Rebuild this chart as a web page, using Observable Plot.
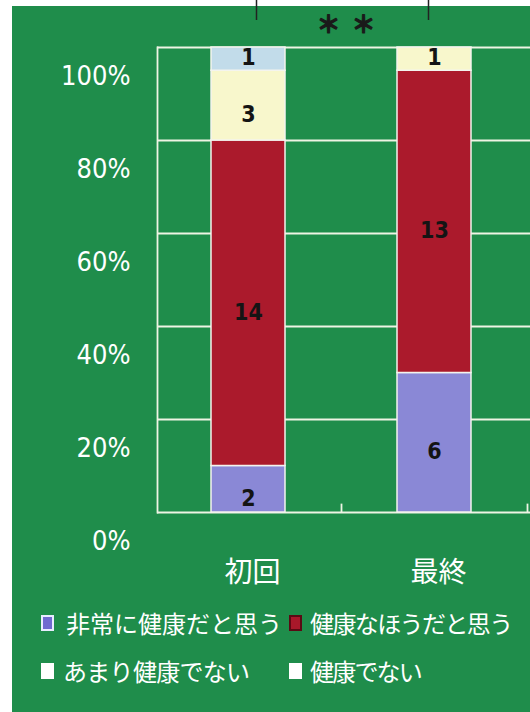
<!DOCTYPE html>
<html>
<head>
<meta charset="utf-8">
<script src="https://cdn.jsdelivr.net/npm/d3@7"></script>
<script src="https://cdn.jsdelivr.net/npm/@observablehq/plot@0.6"></script>
<style>
  html, body { margin: 0; padding: 0; background: #ffffff; }
  #wrap { position: relative; width: 530px; height: 712px; background: #ffffff; overflow: hidden; }
  #bg { position: absolute; left: 12px; top: 6px; right: 0; bottom: 0; background: #1f8d4b; }
  #chart { position: absolute; left: 0; top: 0; }
  #chart svg { background: transparent; overflow: visible; }
  #legend { position: absolute; left: 0; top: 605px; width: 530px; height: 107px;
    font-family: "Noto Sans CJK JP", sans-serif; font-size: 24px; color: #ffffff; }
  .item { position: absolute; display: flex; align-items: center; white-space: nowrap; }
  .sw { display: inline-block; width: 13px; height: 16px; margin-right: 11px; box-sizing: border-box; }
</style>
</head>
<body>
<div id="wrap">
  <div id="bg"></div>
  <div id="chart"></div>
  <div id="legend"></div>
</div>
<script>
// ---- data ----
const categories = ["初回", "最終"];
const responses = ["非常に健康だと思う", "健康なほうだと思う", "あまり健康でない", "健康でない"];
const countsInitial = [2, 14, 3, 1];
const countsFinal = [6, 13, 1, 0];
const yTicks = [0, 0.2, 0.4, 0.6, 0.8, 1.0];
const significance = "＊\u00a0\u00a0＊";

// ---- styles ----
const segColors = ["#8a88d6", "#ab1a2c", "#f8f7cc", "#c2dcea"];
const legendSwatch = [
  {bg: "#6f6ad0", border: "2px solid #e8ecff"},
  {bg: "#a8182a", border: "2px solid #5a0a14"},
  {bg: "#ffffff", border: "none"},
  {bg: "#ffffff", border: "none"}
];
const legendPos = [
  {left: 41, top: 0, ls: 0, gap: 12}, {left: 289, top: 0, ls: -1.6, gap: 8},
  {left: 41, top: 48, ls: -0.7, gap: 9}, {left: 289, top: 48, ls: -1.8, gap: 8}
];
const numFont = "'Liberation Sans Narrow', 'DejaVu Sans Condensed', sans-serif";

const rows = [];
categories.forEach((c, ci) => {
  const vals = ci === 0 ? countsInitial : countsFinal;
  responses.forEach((r, ri) => rows.push({time: c, response: r, count: vals[ri]}));
});

const W = 530, H = 605, mL = 157, mT = 47, mB = 93, mR = 0;
const step = 186;

const plot = Plot.plot({
  width: W,
  height: H,
  marginLeft: mL,
  marginTop: mT,
  marginBottom: mB,
  marginRight: mR,
  style: {background: "transparent", overflow: "visible"},
  x: {domain: categories, paddingInner: 0.6, paddingOuter: 0.3, align: 0.48, label: null},
  y: {domain: [0, 1], label: null},
  color: {domain: responses, range: segColors},
  marks: [
    Plot.gridY(yTicks, {stroke: "#eef4e4", strokeOpacity: 1, strokeWidth: 1.8}),
    Plot.frame({anchor: "left", stroke: "#eef4e4", strokeWidth: 1.8}),
    Plot.ruleX(categories, {x: d => d, y1: 0, y2: 0.018, dx: step / 2, stroke: "#eef4e4", strokeWidth: 1.8}),
    Plot.barY(rows, {x: "time", y: "count", z: "response", fill: "response", offset: "normalize",
      stroke: "#f4f4ee", strokeWidth: 1.5}),
    Plot.text(rows, Plot.stackY({x: "time", y: "count", z: "response", offset: "normalize",
      text: d => d.count > 1 ? String(d.count) : "", dy: 9,
      fill: "#141414", fontSize: 23, fontWeight: 600, fontFamily: numFont})),
    Plot.text(rows, Plot.stackY({x: "time", y: "count", z: "response", offset: "normalize",
      text: d => d.count === 1 ? String(d.count) : "", dy: -2,
      fill: "#141414", fontSize: 23, fontWeight: 600, fontFamily: numFont})),
    Plot.ruleX([categories[0]], {x: d => d, y1: 1.058, y2: 1.12, dx: 8, stroke: "#222", strokeWidth: 1.5}),
    Plot.ruleX([categories[1]], {x: d => d, y1: 1.058, y2: 1.12, dx: -6, stroke: "#222", strokeWidth: 1.5}),
    Plot.text([significance], {text: d => d, frameAnchor: "top", dx: 2, dy: -32,
      fill: "#1a1a1a", stroke: "#1a1a1a", strokeWidth: 1.2, fontSize: 24, fontWeight: "bold",
      fontFamily: "'Noto Sans CJK JP', sans-serif"}),
    Plot.axisY(yTicks, {tickSize: 0, tickPadding: 27, dy: 29, fill: "#ffffff", fontSize: 27,
      fontFamily: numFont, tickFormat: d => Math.round(d * 100) + "%", label: null}),
    Plot.axisX({tickSize: 0, tickPadding: 50, dx: 4, fill: "#ffffff", fontSize: 28,
      fontFamily: "'Noto Sans CJK JP', sans-serif", label: null})
  ]
});
document.getElementById("chart").appendChild(plot);

const legend = document.getElementById("legend");
responses.forEach((r, i) => {
  const item = document.createElement("div");
  item.className = "item";
  item.style.left = legendPos[i].left + "px";
  item.style.top = legendPos[i].top + "px";
  const sw = document.createElement("span");
  sw.className = "sw";
  sw.style.background = legendSwatch[i].bg;
  sw.style.border = legendSwatch[i].border;
  sw.style.marginRight = legendPos[i].gap + "px";
  const t = document.createElement("span");
  t.textContent = r;
  t.style.letterSpacing = legendPos[i].ls + "px";
  item.appendChild(sw);
  item.appendChild(t);
  legend.appendChild(item);
});
</script>
</body>
</html>
